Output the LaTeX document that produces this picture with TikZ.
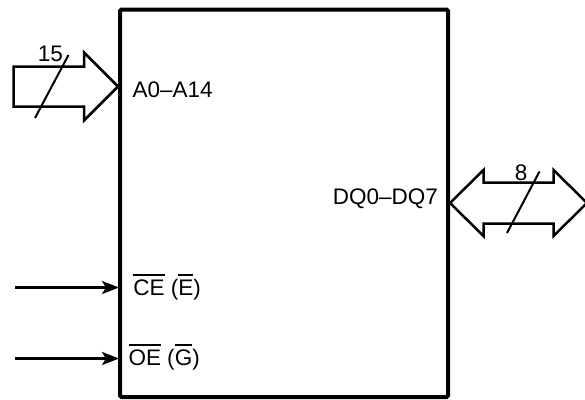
\documentclass[tikz,border=0pt]{standalone}
\usepackage{fontspec}
\setmainfont{Liberation Sans}
\usetikzlibrary{arrows.meta}
\newcommand{\ovlbar}[1]{\leavevmode\vbox{\hrule height 1.8pt\kern 3.5pt\hbox{#1}}}
\begin{document}
\begin{tikzpicture}[x=1pt,y=-1pt,
  lbl/.style={inner sep=0pt,outer sep=0pt,font=\fontsize{22.5}{27}\selectfont},
  busarrow/.style={draw=black,line width=2.5pt,line join=miter,fill=white},
  buswidth/.style={line width=2pt},
  sigline/.style={line width=2.5pt,-{Stealth[length=17pt,width=13pt,inset=4pt]}}]
\useasboundingbox (0,0) rectangle (585,399);
% chip outline
\draw[line width=4pt,rounded corners=1.5pt] (120,9.5) rectangle (448,397);
% address bus arrow
\draw[busarrow] (13.5,66.5) -- (84,66.5) -- (84,52.5) -- (118,86.5) -- (84,120.5) -- (84,106.5) -- (13.5,106.5) -- cycle;
\coordinate (s1a) at (35,118);
\coordinate (s1b) at (68.5,55);
\draw[buswidth] (s1a) -- (s1b);
\node[lbl,anchor=base] (n15) at (50.5,61.5) {15};
\node[lbl,anchor=base west] (addr) at (132.5,97.3) {A0–A14};
% data bus double arrow
\draw[busarrow] (450,203) -- (483.5,170) -- (483.5,182.5) -- (553.5,182.5) -- (553.5,170) -- (587,203) -- (553.5,236) -- (553.5,223.5) -- (483.5,223.5) -- (483.5,236) -- cycle;
\coordinate (s2a) at (507,233);
\coordinate (s2b) at (539.5,171.5);
\draw[buswidth] (s2a) -- (s2b);
\node[lbl,anchor=base] (n8) at (521,180.7) {8};
\node[lbl,anchor=base east] (data) at (438,204.3) {DQ0–DQ7};
% control signals
\coordinate (ceS) at (15,287.5);
\coordinate (ceE) at (119,287.5);
\draw[sigline] (ceS) -- (ceE);
\node[lbl,anchor=base west] (ce) at (133.3,295) {\ovlbar{CE} (\ovlbar{E})};
\coordinate (oeS) at (15,358.5);
\coordinate (oeE) at (119,358.5);
\draw[sigline] (oeS) -- (oeE);
\node[lbl,anchor=base west] (oe) at (128.5,365.5) {\ovlbar{OE} (\ovlbar{G})};
\end{tikzpicture}
\end{document}
